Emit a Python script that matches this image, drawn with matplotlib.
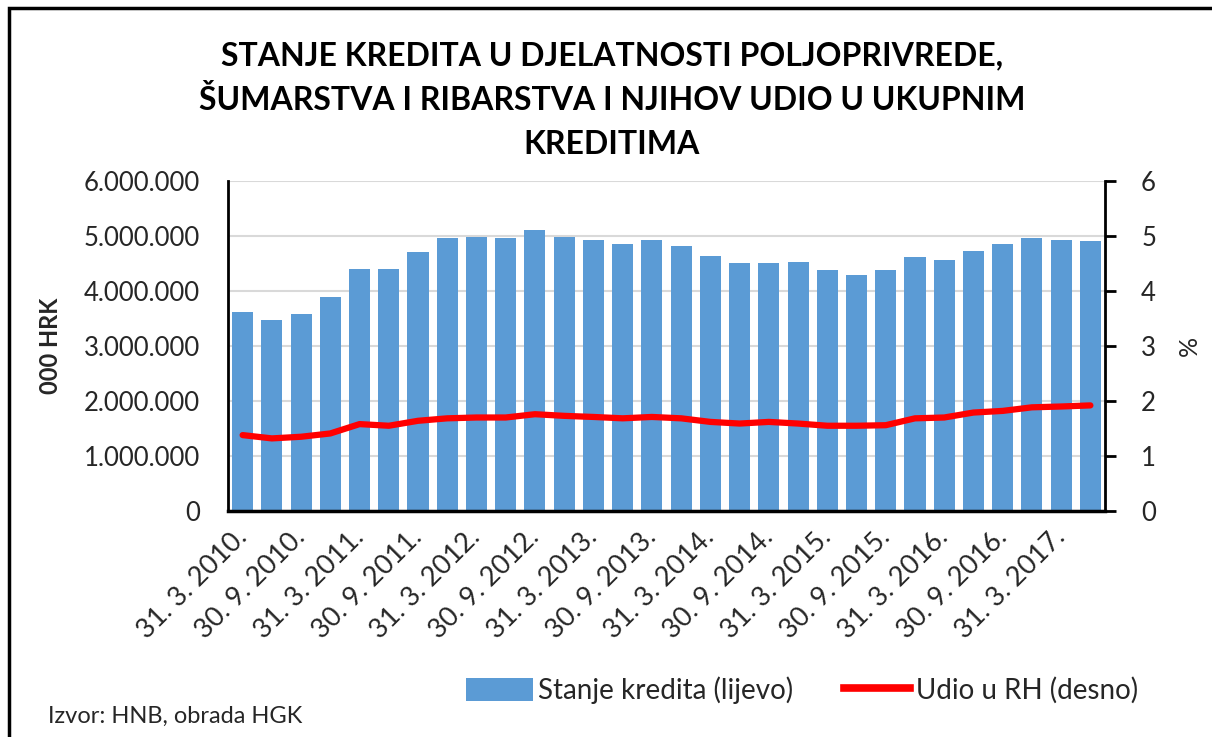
import matplotlib
matplotlib.use("Agg")
import matplotlib.pyplot as plt
from matplotlib import font_manager
from matplotlib.patches import Rectangle, Patch
from matplotlib.lines import Line2D

# Podaci (očitani s grafikona), kvartalno 31.3.2010. - 30.6.2017.
oznake = ["31. 3. 2010.", "30. 9. 2010.", "31. 3. 2011.", "30. 9. 2011.",
          "31. 3. 2012.", "30. 9. 2012.", "31. 3. 2013.", "30. 9. 2013.",
          "31. 3. 2014.", "30. 9. 2014.", "31. 3. 2015.", "30. 9. 2015.",
          "31. 3. 2016.", "30. 9. 2016.", "31. 3. 2017."]

stanje_kredita = [3620000, 3480000, 3590000, 3885000, 4405000, 4405000,
                  4700000, 4960000, 4990000, 4960000, 5110000, 4990000,
                  4930000, 4850000, 4930000, 4820000, 4640000, 4500000,
                  4500000, 4530000, 4380000, 4290000, 4380000, 4610000,
                  4560000, 4730000, 4850000, 4960000, 4930000, 4910000]

udio_rh = [1.38, 1.32, 1.35, 1.41, 1.58, 1.55, 1.64, 1.685, 1.70, 1.70,
           1.76, 1.73, 1.71, 1.685, 1.71, 1.685, 1.62, 1.59, 1.62, 1.59,
           1.55, 1.55, 1.56, 1.685, 1.70, 1.79, 1.82, 1.885, 1.90, 1.92]

# Fontovi
dostupni = {f.name for f in font_manager.fontManager.ttflist}
font_tekst = "Lato" if "Lato" in dostupni else "DejaVu Sans"
plt.rcParams['font.family'] = [font_tekst, 'DejaVu Sans']

W, H = 1212, 737
fig = plt.figure(figsize=(W / 100, H / 100), dpi=100)

# okvir slike
fig.patches.append(Rectangle((9 / W, -0.1), 1.2, 1 - 8 / H + 0.1, transform=fig.transFigure,
                             fill=False, edgecolor='black', linewidth=2.5))

ax = fig.add_axes([228 / W, 1 - 511 / H, (1105 - 228) / W, (511 - 181) / H])
x = list(range(len(stanje_kredita)))

ax.bar(x, stanje_kredita, width=0.72, color='#5b9bd5', zorder=2)
ax.set_xlim(-0.5, len(x) - 0.5)
ax.set_ylim(0, 6000000)
ax.set_yticks(range(0, 6000001, 1000000))
ax.set_yticklabels(["0" if v == 0 else f"{v:,}".replace(",", ".") for v in range(0, 6000001, 1000000)],
                   fontsize=18.5, color='#262626')
ax.grid(axis='y', color='#d9d9d9', linewidth=1.5, zorder=0)
ax.set_axisbelow(True)
ax.tick_params(axis='y', length=0, pad=20)
ax.set_xticks(x[::2])
ax.set_xticklabels(oznake, rotation=45, ha='right', va='center', rotation_mode='anchor',
                   fontsize=19.5, color='#262626')
ax.tick_params(axis='x', length=0, pad=16)
for s in ['top', 'right']:
    ax.spines[s].set_visible(False)
ax.spines['left'].set_linewidth(2)
ax.spines['bottom'].set_linewidth(2.5)
ax.set_ylabel("000 HRK", fontsize=17, fontweight='bold', color='#262626', labelpad=16)

ax2 = ax.twinx()
ax2.plot(x, udio_rh, color='#ff0000', linewidth=4.5, solid_capstyle='round',
         solid_joinstyle='round', zorder=3)
ax2.set_ylim(0, 6)
ax2.set_yticks(range(0, 7))
ax2.tick_params(axis='y', direction='out', length=8, width=2, labelsize=18.5,
                labelcolor='#262626', pad=18)
for s in ['top', 'left', 'bottom']:
    ax2.spines[s].set_visible(False)
ax2.spines['right'].set_linewidth(2)
ax2.set_ylabel("%", fontsize=18, color='#262626', labelpad=16)

# naslov
naslov = ["STANJE KREDITA U DJELATNOSTI POLJOPRIVREDE,",
          "ŠUMARSTVA I RIBARSTVA I NJIHOV UDIO U UKUPNIM",
          "KREDITIMA"]
for i, red in enumerate(naslov):
    fig.text(612 / W, 1 - (56 + i * 44) / H, red, ha='center', va='center',
             fontsize=23, fontweight='bold')

# legenda
ruke = [Patch(facecolor='#5b9bd5', edgecolor='none'),
        Line2D([0], [0], color='#ff0000', linewidth=5.5)]
fig.legend(ruke, ["Stanje kredita (lijevo)", "Udio u RH (desno)"],
           loc='center', bbox_to_anchor=(802 / W, 1 - 690 / H), ncol=2, frameon=False,
           fontsize=20, handlelength=2.4, handleheight=0.9, handletextpad=0.2,
           columnspacing=1.8, labelcolor='#262626')

fig.text(48 / W, 1 - 716 / H, "Izvor: HNB, obrada HGK", ha='left', va='center',
         fontsize=17, color='#262626')

fig.savefig("out.png", dpi=100)
